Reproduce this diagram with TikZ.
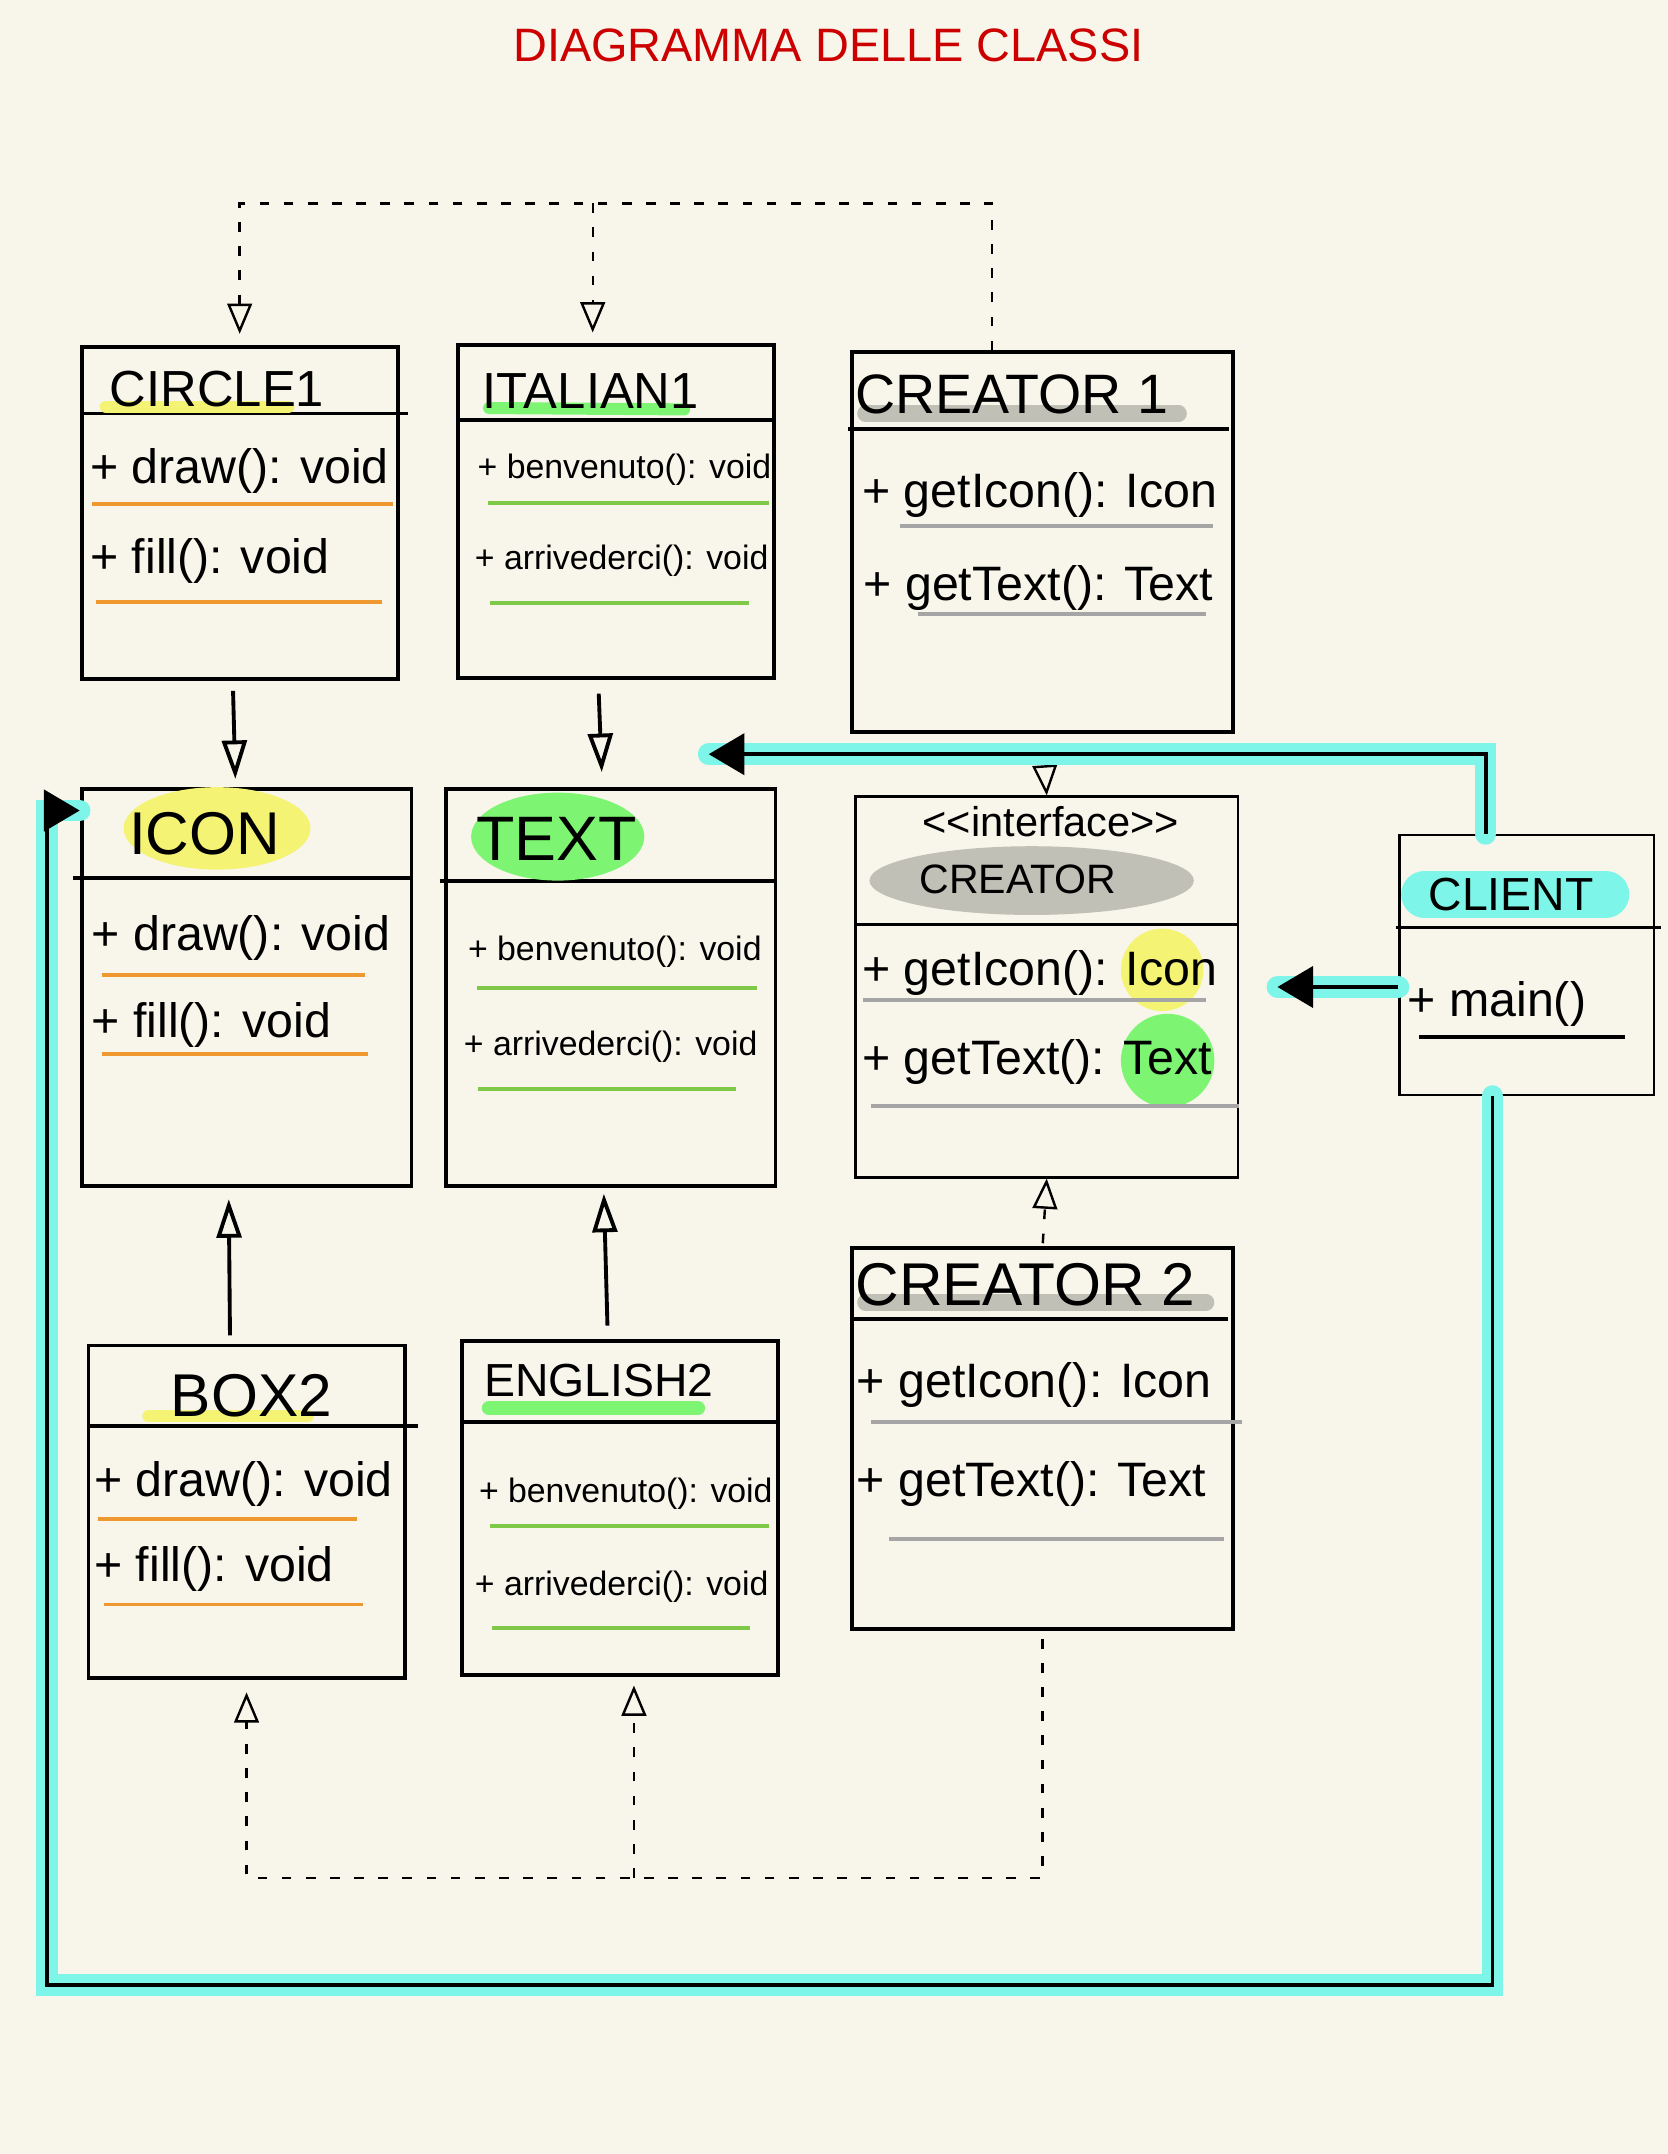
\documentclass[tikz,border=0pt]{standalone}
\usepackage{fontspec}
\setmainfont{Liberation Sans}
\usepackage{xcolor}
\usetikzlibrary{arrows.meta}

\definecolor{paper}{RGB}{248,246,235}
\definecolor{titlered}{RGB}{204,0,0}
\definecolor{hlyellow}{RGB}{245,243,115}
\definecolor{hlgreen}{RGB}{125,245,115}
\definecolor{hlgray}{RGB}{192,192,182}
\definecolor{hlcyan}{RGB}{125,245,232}
\definecolor{ulorange}{RGB}{240,152,48}
\definecolor{ulgreen}{RGB}{128,200,72}
\definecolor{ulgray}{RGB}{165,165,165}

\begin{document}
\begin{tikzpicture}[
  x=0.01cm, y=-0.01cm,
  cls/.style={rectangle, draw, thick, inner sep=0pt, anchor=north west},
  cname/.style={inner sep=0pt, font=\fontsize{10.5}{12}\selectfont},
  meth/.style={inner sep=0pt, anchor=west, font=\fontsize{10}{12}\selectfont},
  methsm/.style={meth, font=\fontsize{7}{8}\selectfont},
  hl/.style={line width=2.5pt, line cap=round},
  ul/.style={line width=0.8pt},
  gen/.style={thick, -{Triangle[open, length=2.8mm, width=1.8mm]}},
  dep/.style={line width=0.5pt, dash pattern=on 2pt off 3pt, -{Triangle[open, length=2.2mm, width=1.8mm]}},
  assoc/.style={thick, -{Triangle[length=2.6mm, width=3mm]}, preaction={draw=hlcyan, line width=4.5pt, line cap=round, -}}
]
\fill[paper] (0,0) rectangle (1214,1568);
\useasboundingbox (0,0) rectangle (1214,1568);

\node[font=\fontsize{9.7}{12}\selectfont, text=titlered] (title) at (603,33) {DIAGRAMMA DELLE CLASSI};

% circle1
\node[cls, minimum width=2.30cm, minimum height=2.42cm] (circ) at (58,251) {};
\draw[thick] (circ.west |- 0,301) -- ([xshift=0.6mm]circ.east |- 0,301);
\draw[hl, hlyellow] (77,296) -- (210,296);
\node[cname] (circ-name) at (158,283) {CIRCLE1};
\node[meth] (circ-m1) at (65,343) {+ draw(): void};
\node[meth] (circ-m2) at (65,408) {+ fill(): void};

% italian1
\node[cls, minimum width=2.30cm, minimum height=2.42cm] (ital) at (332,250) {};
\draw[thick] (ital.west |- 0,306) -- (ital.east |- 0,306);
\draw[hl, hlgreen] (356,297) -- (498,298);
\node[cname] (ital-name) at (430,285) {ITALIAN1};
\node[methsm] (ital-m1) at (347,342) {+ benvenuto(): void};
\node[methsm] (ital-m2) at (345,408) {+ arrivederci(): void};

% creator1
\node[cls, minimum width=2.77cm, minimum height=2.76cm] (cr1) at (619,255) {};
\draw[thick] ([xshift=-0.2mm]cr1.west |- 0,312) -- ([xshift=-0.4mm]cr1.east |- 0,312);
\draw[hl, hlgray, line width=3.4pt] (630,301) -- (858,301);
\node[cname, anchor=west, font=\fontsize{11.5}{13}\selectfont] (cr1-name) at (622,287) {CREATOR 1};
\node[meth] (cr1-m1) at (627,360) {+ getIcon(): Icon};
\node[meth] (cr1-m2) at (628,428) {+ getText(): Text};

% icon
\node[cls, minimum width=2.40cm, minimum height=2.89cm] (icon) at (58,573) {};
\draw[thick] ([xshift=-0.5mm]icon.west |- 0,639) -- (icon.east |- 0,639);
\fill[hlyellow] (158,603) ellipse [x radius=0.68cm, y radius=0.3cm];
\node[cname, font=\fontsize{12.5}{14}\selectfont] (icon-name) at (149,607) {ICON};
\node[meth] (icon-m1) at (66,683) {+ draw(): void};
\node[meth] (icon-m2) at (66,746) {+ fill(): void};

% text
\node[cls, minimum width=2.40cm, minimum height=2.89cm] (text) at (323,573) {};
\draw[thick] ([xshift=-0.3mm]text.west |- 0,641) -- (text.east |- 0,641);
\fill[hlgreen] (406,609) ellipse [x radius=0.63cm, y radius=0.32cm];
\node[cname, font=\fontsize{13}{15}\selectfont] (text-name) at (405,611) {TEXT};
\node[methsm] (text-m1) at (340,693) {+ benvenuto(): void};
\node[methsm] (text-m2) at (337,762) {+ arrivederci(): void};

% creator interface
\node[cls, line width=0.5pt, minimum width=2.78cm, minimum height=2.77cm] (cre) at (622,579) {};
\draw[thick] (cre.west |- 0,673) -- (cre.east |- 0,673);
\fill[hlgray] (751,641) ellipse [x radius=1.18cm, y radius=0.25cm];
\fill[hlyellow] (846,706) circle [radius=0.3cm];
\fill[hlgreen] (850,772) circle [radius=0.34cm];
\node[cname, font=\fontsize{8.6}{10}\selectfont] (cre-stereo) at (765,598) {<{}<interface>{}>};
\node[cname, font=\fontsize{8.5}{10}\selectfont] (cre-name) at (741,640) {CREATOR};
\node[meth] (cre-m1) at (627,708) {+ getIcon(): Icon};
\node[meth] (cre-m2) at (627,773) {+ getText(): Text};

% client
\node[cls, line width=0.5pt, minimum width=1.85cm, minimum height=1.89cm] (client) at (1018,607) {};
\draw[semithick] ([xshift=-0.2mm]client.west |- 0,675) -- ([xshift=0.4mm]client.east |- 0,675);
\draw[hlcyan, line width=0.34cm, line cap=round] (1037,651) -- (1169,651);
\node[cname, font=\fontsize{9.6}{11}\selectfont] (client-name) at (1100,651) {CLIENT};
\node[meth] (client-m1) at (1024,731) {+ main()};

% box2
\node[cls, minimum width=2.30cm, minimum height=2.42cm] (box2) at (63,978) {};
\draw[thick] (box2.west |- 0,1038) -- ([xshift=0.8mm]box2.east |- 0,1038);
\draw[hl, hlyellow] (108,1031) -- (224,1031);
\node[cname, font=\fontsize{12.5}{14}\selectfont] (box2-name) at (183,1016) {BOX2};
\node[meth] (box2-m1) at (68,1080) {+ draw(): void};
\node[meth] (box2-m2) at (68,1142) {+ fill(): void};

% english2
\node[cls, minimum width=2.30cm, minimum height=2.43cm] (eng) at (335,975) {};
\draw[thick] ([xshift=0.3mm]eng.west |- 0,1035) -- (eng.east |- 0,1035);
\draw[hl, hlgreen, line width=3pt] (356,1025) -- (508,1025);
\node[cname, font=\fontsize{9.6}{11}\selectfont] (eng-name) at (436,1005) {ENGLISH2};
\node[methsm] (eng-m1) at (348,1087) {+ benvenuto(): void};
\node[methsm] (eng-m2) at (345,1155) {+ arrivederci(): void};

% creator2
\node[cls, minimum width=2.77cm, minimum height=2.77cm] (cr2) at (619,907) {};
\draw[thick] (cr2.west |- 0,960) -- ([xshift=-0.5mm]cr2.east |- 0,960);
\draw[hl, hlgray, line width=3.4pt] (630,948) -- (878,948);
\node[cname, anchor=west, font=\fontsize{12.5}{14}\selectfont] (cr2-name) at (622,935) {CREATOR 2};
\node[meth] (cr2-m1) at (623,1008) {+ getIcon(): Icon};
\node[meth] (cr2-m2) at (623,1080) {+ getText(): Text};

% underlines
\draw[ul, ulorange] (67,367) -- (286,367) (70,438) -- (278,438) (74,710) -- (266,710) (74,767) -- (268,767) (71,1106) -- (260,1106) (76,1168) -- (264,1168);
\draw[ul, ulgreen] (355,366) -- (560,366) (357,439) -- (545,439) (347,719) -- (551,719) (348,793) -- (536,793) (357,1111) -- (560,1111) (358,1185) -- (546,1185);
\draw[ul, ulgray] (655,383) -- (883,383) (668,447) -- (878,447) (628,728) -- (878,728) (634,805) -- (902,805) (634,1035) -- (904,1035) (647,1120) -- (891,1120);
\draw[ul, black] (1033,755) -- (1183,755);

% realisation (dashed)
\coordinate (top) at (0,148);
\coordinate (bot) at (0,1367);
\coordinate (italin) at ([xshift=-1.7mm]ital.north);
\coordinate (engin) at ([xshift=1mm]eng.south);
\draw[dep, shorten >=0.8mm] ([xshift=-3.7mm]cr1.north) |- (top -| circ.north) -- (circ.north);
\draw[dep, shorten >=0.8mm] (top -| italin) -- (italin);
\draw[dep, shorten <=0.6mm, shorten >=0.9mm] (cr2.south) |- (bot -| box2.south) -- (box2.south);
\draw[dep, shorten >=0.6mm] (bot -| engin) -- (engin);
\draw[dep, shorten <=0.9mm] (cr1.south) -- (cre.north);
\draw[dep, shorten <=0.2mm] (cr2.north) -- (cre.south);

% generalisation
\draw[gen, shorten <=0.7mm, shorten >=0.6mm] ([xshift=-0.5mm]circ.south) -- ([xshift=-0.8mm]icon.north);
\draw[gen, shorten <=1mm, shorten >=1.1mm] ([xshift=-1.3mm]ital.south) -- ([xshift=-0.6mm]text.north);
\draw[gen, shorten <=0.6mm, shorten >=0.8mm] ([xshift=-1.2mm]box2.north) -- ([xshift=-1.3mm]icon.south);
\draw[gen, shorten <=1mm, shorten >=0.4mm] ([xshift=-0.9mm]eng.north) -- ([xshift=-0.5mm]text.south);

% client associations
\coordinate (textin) at ([shift={(-5mm,2.4mm)}]text.north east);
\coordinate (iconin) at ([yshift=-1.7mm]icon.north west);
\coordinate (loop) at (34,1445);
\draw[assoc] ([xshift=-3mm]client.north) |- (textin);
\draw[assoc] ([xshift=-2.5mm]client.south) |- (loop) |- (iconin);
\draw[assoc, shorten >=2.8mm] (client.west |- cre.east) -- (cre.east);

\end{tikzpicture}
\end{document}
